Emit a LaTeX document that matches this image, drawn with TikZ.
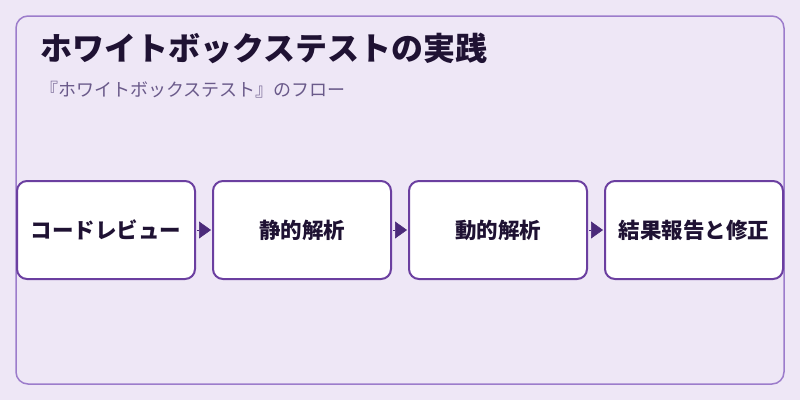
\documentclass[tikz,border=0pt]{standalone}
\usepackage{fontspec}
\setmainfont{Noto Sans CJK JP}
\usepackage{tikz}
\usetikzlibrary{positioning,arrows.meta,chains}
\definecolor{bgc}{HTML}{EEE7F6}
\definecolor{framec}{HTML}{9C7CCB}
\definecolor{boxc}{HTML}{6B3FA0}
\definecolor{arrowc}{HTML}{4B2A7A}
\definecolor{titlec}{HTML}{1F1233}
\definecolor{subc}{HTML}{6A5A8A}
\tikzstyle{signal}=[-{Triangle[length=12pt,width=17pt]},draw=arrowc,fill=arrowc,line width=0.5pt,shorten <=2pt,shorten >=2pt]
\def\stagewidth{178pt}
\def\stageheight{98pt}
\tikzstyle{stage}=[draw=boxc,line width=2pt,fill=white,rounded corners=10pt,
    inner sep=0pt,outer sep=0pt,font=\fontsize{21.5}{24}\selectfont\bfseries,
    text=titlec,text centered,
    minimum width=\stagewidth, minimum height=\stageheight]
\begin{document}
\begin{tikzpicture}[x=1pt,y=-1pt,start chain=going right,node distance=18pt,
            stage/.append style={on chain, join=by {signal}}]
            \fill[bgc] (0,0) rectangle (800,400);
            \useasboundingbox (0,0) rectangle (800,400);
            \draw[framec,line width=1.5pt,rounded corners=12pt] (16,16) rectangle (784,384);
            \node[anchor=base west,inner sep=0pt,text=titlec,font=\fontsize{32}{36}\selectfont\bfseries] (title) at (40,60) {ホワイトボックステストの実践};
            \node[anchor=base west,inner sep=0pt,text=subc,font=\fontsize{18}{21}\selectfont] (subtitle) at (40,96) {『ホワイトボックステスト』のフロー};
            \node[stage] (review) at (106,230) {コードレビュー};
            \node[stage] (static) {静的解析};
            \node[stage] (dynamic) {動的解析};
            \node[stage] (report) {結果報告と修正};
        \end{tikzpicture}
\end{document}
